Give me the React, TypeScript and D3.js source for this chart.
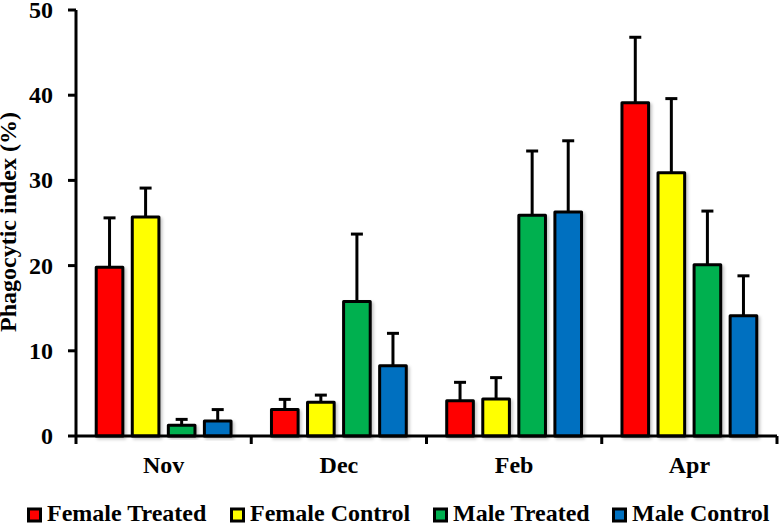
import React from "react";
import * as d3 from "d3";

const months = ["Nov", "Dec", "Feb", "Apr"];
const seriesNames = ["Female Treated", "Female Control", "Male Treated", "Male Control"];
const seriesColors = ["#FF0000", "#FFFF00", "#00B050", "#0070C0"];
const femaleTreated = [19.8, 3.1, 4.15, 39.1];
const femaleControl = [25.7, 3.95, 4.35, 30.9];
const maleTreated = [1.25, 15.8, 25.9, 20.1];
const maleControl = [1.75, 8.25, 26.3, 14.1];
const femaleTreatedErr = [5.8, 1.2, 2.15, 7.7];
const femaleControlErr = [3.4, 0.85, 2.5, 8.7];
const maleTreatedErr = [0.7, 7.9, 7.55, 6.3];
const maleControlErr = [1.35, 3.8, 8.35, 4.7];
const yTicks = [0, 10, 20, 30, 40, 50];

const values = [femaleTreated, femaleControl, maleTreated, maleControl];
const errors = [femaleTreatedErr, femaleControlErr, maleTreatedErr, maleControlErr];

const W = 780;
const H = 524;
const left = 76;
const right = 777;
const top = 10;
const bottom = 436;
const fontStyle = { fontFamily: '"Liberation Serif", "Times New Roman", Times, serif', fontWeight: 700 };

export default function App() {
  const x0 = d3.scaleBand<string>().domain(months).range([left, right]).paddingInner(0).paddingOuter(0);
  const x1 = d3
    .scaleBand<string>()
    .domain(seriesNames)
    .range([0, x0.bandwidth()])
    .paddingInner(0.22)
    .paddingOuter(0.54);
  const y = d3.scaleLinear().domain([0, 50]).range([bottom, top]);
  const bw = x1.bandwidth();
  const capW = 12;

  const legendX = [27, 230, 433, 612];

  return (
    <svg
      width={W}
      height={H}
      style={{ position: "absolute", left: 0, top: 0, background: "#fff" }}
    >
      <defs>
        <filter id="shadow" x="-20%" y="-20%" width="150%" height="150%">
          <feDropShadow dx="2" dy="2" stdDeviation="1.5" floodColor="#000" floodOpacity="0.22" />
        </filter>
      </defs>
      {/* bars */}
      {months.map((m, mi) =>
        seriesNames.map((s, si) => {
          const bx = (x0(m) as number) + (x1(s) as number);
          const v = values[si][mi];
          const e = errors[si][mi];
          const cx = bx + bw / 2;
          return (
            <g key={m + s}>
              <line x1={cx} x2={cx} y1={y(v)} y2={y(v + e)} stroke="#000" strokeWidth={3} />
              <line x1={cx - capW / 2} x2={cx + capW / 2} y1={y(v + e)} y2={y(v + e)} stroke="#000" strokeWidth={3} />
              <rect
                x={bx + 0.75}
                y={y(v)}
                width={bw - 1.5}
                height={bottom - y(v)}
                fill={seriesColors[si]}
                stroke="#000"
                strokeWidth={3}
                strokeLinejoin="round"
                filter="url(#shadow)"
              />
            </g>
          );
        })
      )}
      {/* y axis */}
      <line x1={left} x2={left} y1={top} y2={bottom} stroke="#000" strokeWidth={3} />
      {yTicks.map((t) => (
        <g key={t}>
          <line x1={left - 8} x2={left} y1={y(t)} y2={y(t)} stroke="#000" strokeWidth={3} />
          <text
            x={left - 23}
            y={y(t) + 8}
            textAnchor="end"
            fontSize={24}
            style={fontStyle}
          >
            {t}
          </text>
        </g>
      ))}
      {/* x axis */}
      <line x1={left} x2={right} y1={bottom} y2={bottom} stroke="#000" strokeWidth={3} />
      {[...months.map((m) => x0(m) as number), right].map((tx, i) => (
        <line key={i} x1={tx} x2={tx} y1={bottom} y2={bottom + 8} stroke="#000" strokeWidth={3} />
      ))}
      {months.map((m) => (
        <text
          key={m}
          x={(x0(m) as number) + x0.bandwidth() / 2}
          y={473}
          textAnchor="middle"
          fontSize={24}
          style={fontStyle}
        >
          {m}
        </text>
      ))}
      {/* y title */}
      <text
        transform={`translate(16,222) rotate(-90)`}
        textAnchor="middle"
        fontSize={24}
        style={fontStyle}
      >
        Phagocytic index (%)
      </text>
      {/* legend */}
      {seriesNames.map((s, i) => (
        <g key={s}>
          <rect x={legendX[i] + 1.5} y={509} width={12} height={12} fill={seriesColors[i]} stroke="#000" strokeWidth={3} />
          <text x={legendX[i] + 20} y={521} fontSize={24} style={fontStyle}>
            {s}
          </text>
        </g>
      ))}
    </svg>
  );
}
